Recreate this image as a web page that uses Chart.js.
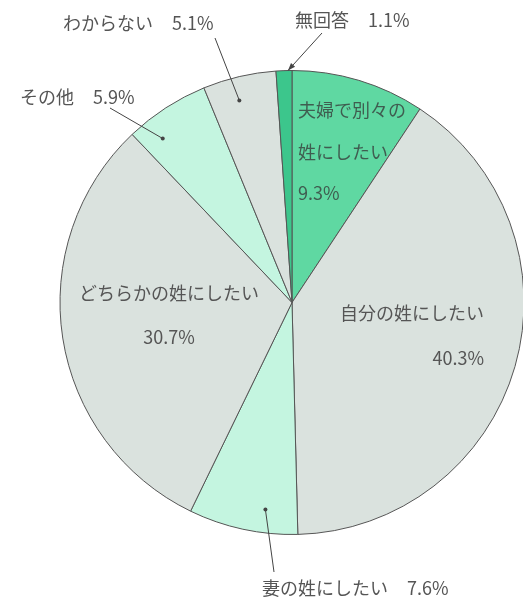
<!DOCTYPE html>
<html lang="ja">
<head>
<meta charset="utf-8">
<script src="https://cdn.jsdelivr.net/npm/chart.js@4.4.1/dist/chart.umd.min.js"></script>
<style>
  html, body { margin: 0; padding: 0; background: #fff; overflow: hidden; }
  #wrap { position: relative; width: 584px; height: 598px; }
</style>
</head>
<body>
<div id="wrap"><canvas id="pie" width="584" height="598"></canvas></div>
<script>
// slices, clockwise from 12 o'clock
const categories = ['夫婦で別々の姓にしたい', '自分の姓にしたい', '妻の姓にしたい', 'どちらかの姓にしたい', 'その他', 'わからない', '無回答'];
const percents = [9.3, 40.3, 7.6, 30.7, 5.9, 5.1, 1.1];
const sliceColors = ['#5fd8a2', '#dae2de', '#c4f5e0', '#dae2de', '#c4f5e0', '#dae2de', '#3cc68c'];

// where each label goes (pixels) and how it is tied to its slice
const labelLayout = [
  { mode: 'stack', split: 6, x: 298, ys: [110, 152, 193], align: 'left', color: '#3f5d50' },
  { mode: 'stack', x: 484, ys: [313, 358], align: 'right' },
  { mode: 'line', x: 262, y: 588, from: [274, 572], t: 0.32 },
  { mode: 'stack', x: 169, ys: [293, 337], align: 'center' },
  { mode: 'line', x: 20, y: 97, from: [110, 108], t: 0.25 },
  { mode: 'line', x: 63, y: 23, from: [215, 38], t: 0.42 },
  { mode: 'arrow', x: 295, y: 20, from: [322, 33], t: 0.75 }
];

const FONT = '18px "Noto Sans CJK JP", "Noto Sans", sans-serif';
const TEXT = '#555';
const LINE = '#444';

function pct(v) { return v.toFixed(1) + '%'; }

const labelsPlugin = {
  id: 'sliceLabels',
  afterDraw(chart) {
    const ctx = chart.ctx;
    const arcs = chart.getDatasetMeta(0).data;
    ctx.save();
    ctx.font = FONT;
    ctx.textBaseline = 'middle';
    labelLayout.forEach((lay, i) => {
      const arc = arcs[i];
      const name = categories[i];
      ctx.fillStyle = lay.color || TEXT;
      if (lay.mode === 'stack') {
        let lines = lay.split ? [name.slice(0, lay.split), name.slice(lay.split)] : [name];
        lines.push(pct(percents[i]));
        ctx.textAlign = lay.align;
        lines.forEach((s, k) => ctx.fillText(s, lay.x, lay.ys[k]));
        return;
      }
      // outside label: name, gap, value
      ctx.textAlign = 'left';
      ctx.fillText(name, lay.x, lay.y);
      const w = ctx.measureText(name).width;
      ctx.fillText(pct(percents[i]), lay.x + w + 19, lay.y);

      const a = arc.startAngle + lay.t * (arc.endAngle - arc.startAngle);
      const rr = lay.mode === 'arrow' ? arc.outerRadius : arc.outerRadius * 0.9;
      const px = arc.x + rr * Math.cos(a);
      const py = arc.y + rr * Math.sin(a);
      ctx.strokeStyle = LINE;
      ctx.fillStyle = LINE;
      ctx.lineWidth = 1;
      ctx.beginPath();
      ctx.moveTo(lay.from[0], lay.from[1]);
      ctx.lineTo(px, py);
      ctx.stroke();
      if (lay.mode === 'arrow') {
        const ang = Math.atan2(py - lay.from[1], px - lay.from[0]);
        ctx.beginPath();
        ctx.moveTo(px, py);
        ctx.lineTo(px - 8 * Math.cos(ang - 0.35), py - 8 * Math.sin(ang - 0.35));
        ctx.lineTo(px - 8 * Math.cos(ang + 0.35), py - 8 * Math.sin(ang + 0.35));
        ctx.closePath();
        ctx.fill();
      } else {
        ctx.beginPath();
        ctx.arc(px, py, 2, 0, Math.PI * 2);
        ctx.fill();
      }
    });
    ctx.restore();
  }
};

new Chart(document.getElementById('pie'), {
  type: 'pie',
  data: {
    labels: categories,
    datasets: [{
      data: percents,
      backgroundColor: sliceColors,
      borderColor: '#555',
      borderWidth: 1,
      hoverOffset: 0
    }]
  },
  options: {
    responsive: false,
    animation: false,
    events: [],
    layout: { padding: { top: 70, bottom: 63, left: 0, right: 0 } },
    plugins: {
      legend: { display: false },
      tooltip: { enabled: false }
    }
  },
  plugins: [labelsPlugin]
});
</script>
</body>
</html>
